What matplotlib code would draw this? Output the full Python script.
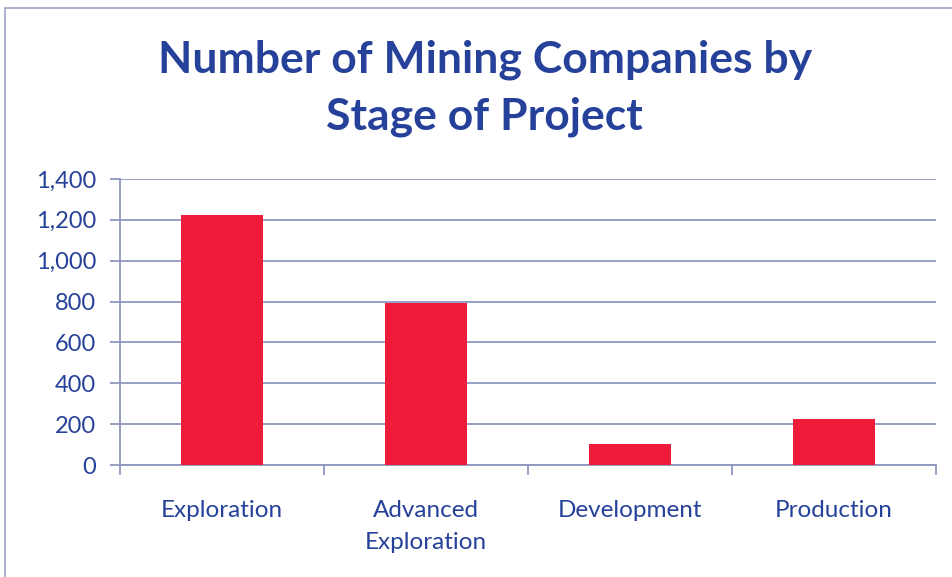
import matplotlib.pyplot as plt
from matplotlib.patches import Rectangle
import numpy as np

stages = ["Exploration", "Advanced\nExploration", "Development", "Production"]
companies = [1225, 795, 105, 225]
yticks = [0, 200, 400, 600, 800, 1000, 1200, 1400]

blue = "#26419A"
grid = "#8F96C0"
red = "#EE1B3A"

plt.rcParams['font.family'] = ['Lato', 'DejaVu Sans']

fig = plt.figure(figsize=(9.52, 5.77), dpi=100)
ax = fig.add_axes([0.126, 0.194, 0.857, 0.496])

# chart border like the spreadsheet chart area
fig.patches.append(Rectangle((5 / 952, -0.1), 1.2, 1 - 8 / 577 + 0.1,
                             transform=fig.transFigure, fill=False,
                             edgecolor="#9CA3C8", lw=1.2))

x = np.arange(len(stages))
ax.bar(x, companies, width=0.4, color=red, zorder=3)

ax.set_xlim(-0.5, len(stages) - 0.5)
ax.set_ylim(0, 1400)
ax.set_yticks(yticks)
ax.set_yticklabels([f"{v:,}" for v in yticks])
ax.yaxis.grid(True, color=grid, lw=1.3, zorder=0)

# category labels between boundary ticks
ax.set_xticks(np.arange(len(stages) + 1) - 0.5)
ax.set_xticklabels([])
ax.set_xticks(x, minor=True)
ax.set_xticklabels(stages, minor=True, linespacing=1.65)
ax.tick_params(axis="x", which="minor", length=0, pad=25, labelsize=17.5, labelcolor=blue)
ax.tick_params(axis="x", which="major", length=7, color=grid, width=1.3)
ax.tick_params(axis="y", length=7, color=grid, width=1.3, labelsize=17, labelcolor=blue, pad=10)

for s in ["top", "right"]:
    ax.spines[s].set_visible(False)
for s in ["left", "bottom"]:
    ax.spines[s].set_color(grid)
    ax.spines[s].set_linewidth(1.3)

fig.text(0.509, 0.847, "Number of Mining Companies by\nStage of Project",
         ha="center", va="center", fontsize=32, fontweight="bold",
         color=blue, linespacing=1.5)

fig.savefig("out.png", dpi=100)
